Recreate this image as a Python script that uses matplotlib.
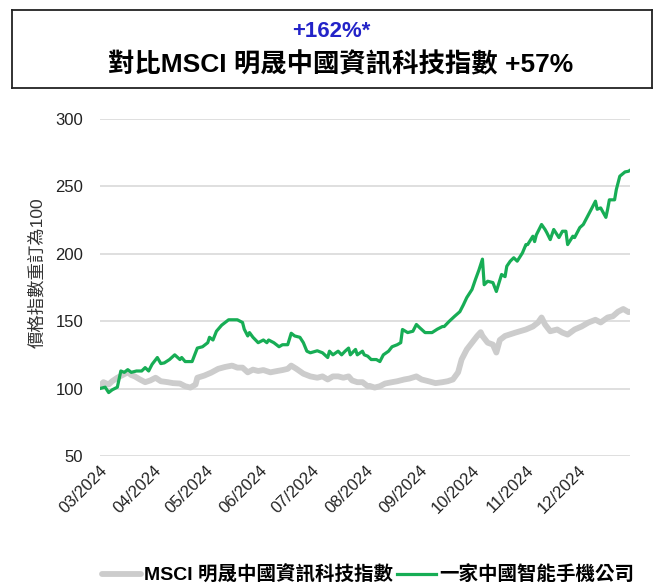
import pandas as pd
import matplotlib.pyplot as plt
import matplotlib.dates as mdates

plt.rcParams['font.family'] = ['Liberation Sans', 'Noto Sans CJK TC', 'DejaVu Sans']

# 一家中國智能手機公司 (rebased to 100)
phone_dates = ["2024-03-01", "2024-03-04", "2024-03-06", "2024-03-08", "2024-03-11", "2024-03-13",
               "2024-03-15", "2024-03-17", "2024-03-19", "2024-03-22", "2024-03-25", "2024-03-27",
               "2024-03-29", "2024-03-31", "2024-04-03", "2024-04-05", "2024-04-07", "2024-04-10",
               "2024-04-13", "2024-04-16", "2024-04-17", "2024-04-19", "2024-04-23", "2024-04-26",
               "2024-04-29", "2024-05-02", "2024-05-03", "2024-05-05", "2024-05-07", "2024-05-10",
               "2024-05-12", "2024-05-14", "2024-05-19", "2024-05-22", "2024-05-23", "2024-05-25",
               "2024-05-26", "2024-05-28", "2024-05-31", "2024-06-03", "2024-06-05", "2024-06-06",
               "2024-06-09", "2024-06-12", "2024-06-14", "2024-06-17", "2024-06-19", "2024-06-21",
               "2024-06-24", "2024-06-26", "2024-06-28", "2024-06-30", "2024-07-04", "2024-07-07",
               "2024-07-10", "2024-07-11", "2024-07-13", "2024-07-16", "2024-07-18", "2024-07-20",
               "2024-07-22", "2024-07-23", "2024-07-26", "2024-07-27", "2024-07-30", "2024-07-31",
               "2024-08-02", "2024-08-04", "2024-08-07", "2024-08-09", "2024-08-11", "2024-08-14",
               "2024-08-16", "2024-08-19", "2024-08-21", "2024-08-22", "2024-08-25", "2024-08-28",
               "2024-08-30", "2024-09-01", "2024-09-04", "2024-09-08", "2024-09-11", "2024-09-14",
               "2024-09-15", "2024-09-18", "2024-09-21", "2024-09-24", "2024-09-26", "2024-09-28",
               "2024-10-01", "2024-10-03", "2024-10-05", "2024-10-07", "2024-10-08", "2024-10-10",
               "2024-10-13", "2024-10-15", "2024-10-18", "2024-10-20", "2024-10-21", "2024-10-23",
               "2024-10-25", "2024-10-27", "2024-10-30", "2024-11-01", "2024-11-02", "2024-11-05",
               "2024-11-06", "2024-11-07", "2024-11-10", "2024-11-12", "2024-11-13", "2024-11-15",
               "2024-11-17", "2024-11-20", "2024-11-22", "2024-11-24", "2024-11-25", "2024-11-28",
               "2024-11-29", "2024-12-02", "2024-12-04", "2024-12-07", "2024-12-09", "2024-12-11",
               "2024-12-12", "2024-12-14", "2024-12-17", "2024-12-18", "2024-12-19", "2024-12-22",
               "2024-12-23", "2024-12-25", "2024-12-28", "2024-12-30", "2024-12-31"]
phone_values = [100, 101, 97, 99, 101, 113,
                112, 114, 112, 113, 113, 115.5,
                113, 118, 123, 118.5, 119, 121.5,
                125, 121.5, 123, 120, 120, 130,
                131, 134, 138, 136, 142.5, 147,
                149, 151, 151, 149, 144, 139,
                141.5, 138, 134, 136, 134, 136,
                134, 131, 132.5, 132.5, 141, 139,
                138, 134, 127.7, 126.5, 128, 126.5,
                123, 127.7, 125, 127.7, 125, 127.7,
                130, 125, 129, 125, 127.7, 125,
                124, 121.5, 121.5, 120, 125, 127.7,
                131, 132.5, 134, 143.8, 141.5, 142.5,
                147.5, 145, 141.5, 141.5, 144, 146,
                146, 150, 153.6, 157, 162, 167.5,
                173.5, 181, 188, 196, 177, 179.6,
                178.6, 172, 184.6, 183, 190.7, 194.5,
                197, 194.5, 200.6, 206.8, 206.8, 213,
                209, 214, 221.7, 218, 215.7, 210.5,
                218, 212, 216.7, 216.7, 206.8, 213,
                212, 219.4, 221.7, 229, 234, 239,
                233, 234, 227, 233, 240, 240,
                247.6, 257.5, 260.7, 261.2, 262]

# MSCI 明晟中國資訊科技指數 (rebased to 100)
msci_dates = ["2024-03-01", "2024-03-03", "2024-03-06", "2024-03-08", "2024-03-11", "2024-03-14",
              "2024-03-17", "2024-03-19", "2024-03-21", "2024-03-24", "2024-03-27", "2024-03-30",
              "2024-04-02", "2024-04-05", "2024-04-09", "2024-04-12", "2024-04-16", "2024-04-19",
              "2024-04-22", "2024-04-25", "2024-04-26", "2024-04-30", "2024-05-04", "2024-05-08",
              "2024-05-12", "2024-05-16", "2024-05-19", "2024-05-22", "2024-05-25", "2024-05-28",
              "2024-05-31", "2024-06-03", "2024-06-07", "2024-06-11", "2024-06-14", "2024-06-17",
              "2024-06-19", "2024-06-22", "2024-06-26", "2024-06-30", "2024-07-04", "2024-07-07",
              "2024-07-10", "2024-07-13", "2024-07-16", "2024-07-19", "2024-07-22", "2024-07-24",
              "2024-07-27", "2024-07-30", "2024-08-02", "2024-08-03", "2024-08-06", "2024-08-09",
              "2024-08-12", "2024-08-16", "2024-08-19", "2024-08-23", "2024-08-26", "2024-08-30",
              "2024-09-02", "2024-09-06", "2024-09-10", "2024-09-14", "2024-09-17", "2024-09-20",
              "2024-09-23", "2024-09-25", "2024-09-28", "2024-10-01", "2024-10-04", "2024-10-06",
              "2024-10-07", "2024-10-10", "2024-10-13", "2024-10-15", "2024-10-17", "2024-10-20",
              "2024-10-26", "2024-11-01", "2024-11-05", "2024-11-08", "2024-11-10", "2024-11-12",
              "2024-11-15", "2024-11-19", "2024-11-22", "2024-11-25", "2024-11-29", "2024-12-03",
              "2024-12-07", "2024-12-11", "2024-12-14", "2024-12-18", "2024-12-21", "2024-12-24",
              "2024-12-27", "2024-12-30", "2024-12-31"]
msci_values = [102, 104.7, 103, 105.4, 108, 110,
               112, 110, 109, 106.7, 104.7, 106,
               108, 105.4, 104.7, 104, 103.7, 101.7,
               100.7, 103, 108, 109.6, 111.8, 114.6,
               116, 117, 115.5, 115.5, 112, 114,
               113, 113.7, 112, 113, 113.7, 114.6,
               117, 114.6, 111, 109, 108, 109,
               106.7, 109, 109, 108, 109, 106,
               104.7, 104.7, 101.7, 102, 100.7, 101.7,
               103.7, 104.7, 105.4, 106.7, 107.4, 109,
               106.7, 105.4, 104, 104.7, 105.4, 106.7,
               112, 121.5, 129, 134, 139, 141.8,
               139, 134, 132.6, 126.7, 136, 139,
               141.5, 143.8, 146, 149, 152.7, 147.5,
               142.5, 143.8, 141.5, 140, 143.8, 146,
               149, 151, 149, 152.7, 153.6, 157,
               159, 156.7, 157]

y_ticks = [50, 100, 150, 200, 250, 300]

fig = plt.figure(figsize=(6.62, 5.86), dpi=100)

# Title box
box = fig.add_axes([0.018, 0.850, 0.967, 0.133])
box.set_xticks([])
box.set_yticks([])
for s in box.spines.values():
    s.set_color('#222222')
    s.set_linewidth(1.3)
fig.text(0.5, 0.946, "+162%*", ha='center', va='center', fontsize=16, fontweight='bold', color='#2323c8')
fig.text(0.514, 0.891, "對比MSCI 明晟中國資訊科技指數 +57%", ha='center', va='center',
         fontsize=19, fontweight='bold', color='black')

ax = fig.add_axes([0.151, 0.222, 0.801, 0.575])
ax.plot(pd.to_datetime(msci_dates), msci_values, color='#cccccc', lw=4.2,
        label="MSCI 明晟中國資訊科技指數", solid_capstyle='round')
ax.plot(pd.to_datetime(phone_dates), phone_values, color='#17ad55', lw=2.3,
        label="一家中國智能手機公司")

ax.set_ylim(50, 300)
ax.set_yticks(y_ticks)
ax.set_xlim(pd.Timestamp("2024-03-01"), pd.Timestamp("2024-12-31"))
ax.xaxis.set_major_locator(mdates.MonthLocator())
ax.xaxis.set_major_formatter(mdates.DateFormatter("%m/%Y"))
plt.setp(ax.get_xticklabels(), rotation=45, ha='right', rotation_mode='anchor')
ax.tick_params(axis='both', length=0, labelsize=12, colors='#222222')
ax.tick_params(axis='x', pad=5)
ax.tick_params(axis='y', pad=12)
ax.grid(axis='y', color='#d9d9d9', lw=1.2)
ax.set_axisbelow(True)
for s in ax.spines.values():
    s.set_visible(False)

fig.text(0.056, 0.534, "價格指數重訂為100", rotation=90, ha='center', va='center',
         fontsize=12.5, color='#333333')

fig.legend(loc='lower center', bbox_to_anchor=(0.556, -0.028), ncol=2, frameon=False,
           handlelength=2.0, columnspacing=0.2, handletextpad=0.15,
           prop={'size': 14, 'weight': 'bold'})

fig.savefig("out.png", dpi=100)
